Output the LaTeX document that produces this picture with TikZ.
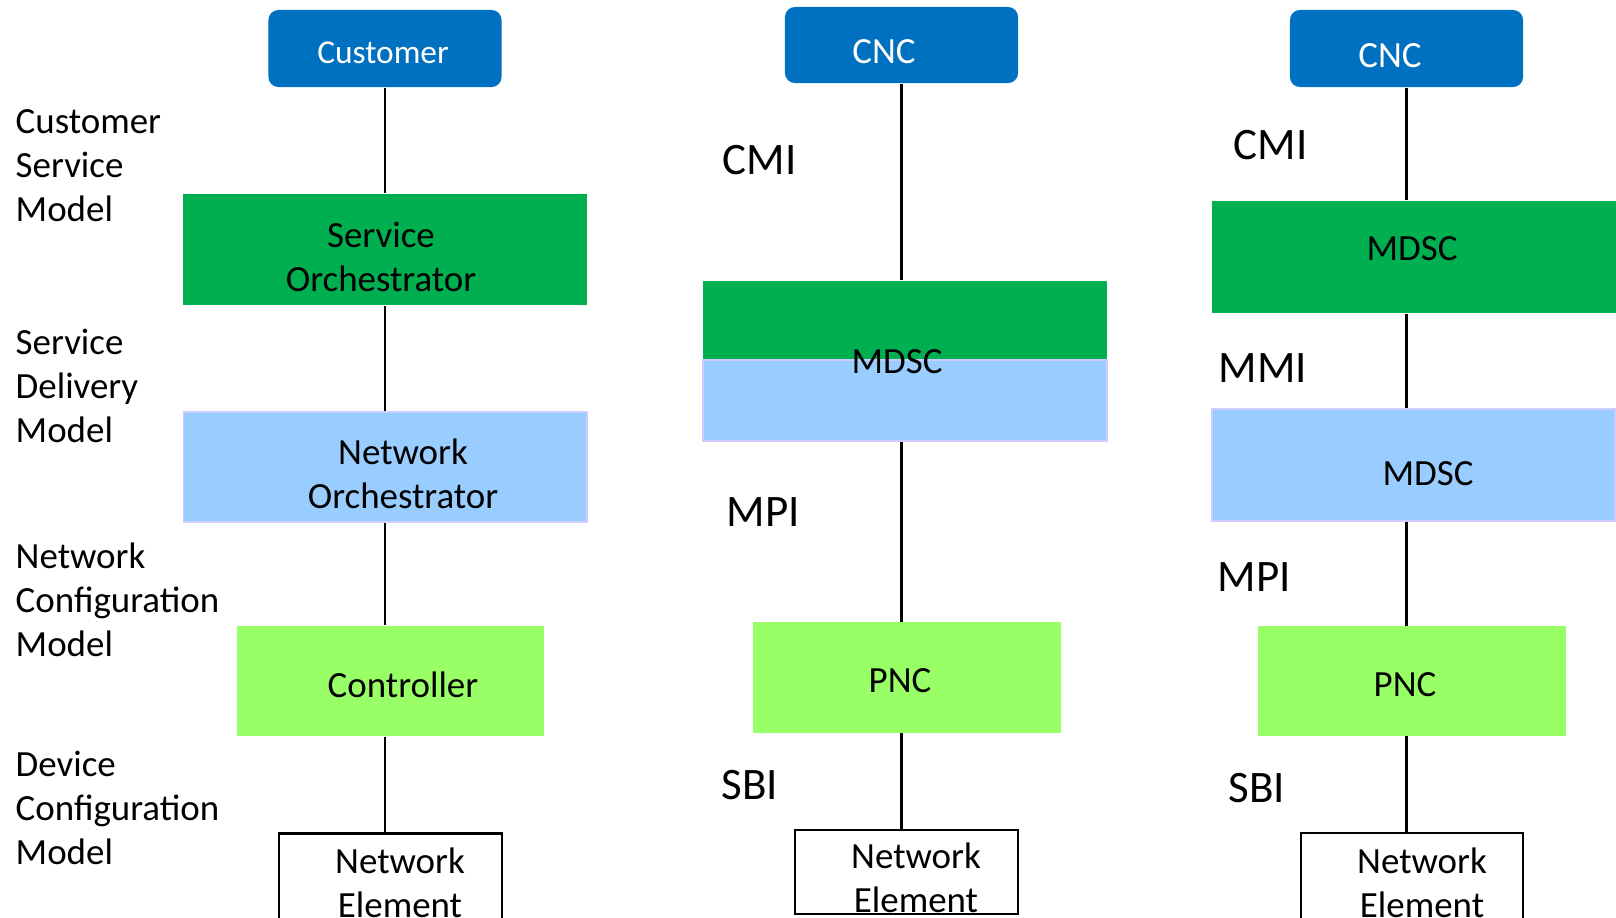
\documentclass[tikz,border=0pt]{standalone}
\usepackage{fontspec}
\setmainfont{Carlito}
\usetikzlibrary{positioning}
\definecolor{topblue}{HTML}{0070C0}
\definecolor{dkgreen}{HTML}{00B050}
\definecolor{ltblue}{HTML}{99CCFF}
\definecolor{ltgreen}{HTML}{99FF66}
\definecolor{lavender}{HTML}{CCCCFF}

\begin{document}
\begin{tikzpicture}[x=0.01cm,y=-0.01cm,font=\fontsize{10.5}{12.5}\selectfont,
 topbox/.style={fill=topblue,rounded corners=0.1cm,minimum width=2.33cm,minimum height=0.77cm,inner sep=0pt},
 dkbox/.style={fill=dkgreen,minimum width=4.04cm,inner sep=0pt},
 ltbbox/.style={fill=ltblue,draw=lavender,line width=0.5pt,minimum width=4.03cm,inner sep=0pt},
 lgbox/.style={fill=ltgreen,minimum width=3.07cm,minimum height=1.1cm,inner sep=0pt},
 nebox/.style={draw,line width=0.6pt,minimum width=2.23cm,minimum height=0.85cm,inner sep=0pt},
 txt/.style={inner sep=0pt,align=center},
 wtxt/.style={txt,text=white},
 lvl/.style={inner sep=0pt,align=left,anchor=west},
 ifc/.style={inner sep=0pt,anchor=west,font=\fontsize{12.8}{15}\selectfont},
 link/.style={line width=0.6pt}]
\useasboundingbox (0,0) rectangle (1616,917);
\clip (0,0) rectangle (1616,917);

% left column
\node[topbox] (cust) at (385,48.5) {};
\node[dkbox,minimum height=1.11cm] (so) at (385,249.5) {};
\node[ltbbox,minimum height=1.1cm] (no) at (385,467) {};
\node[lgbox] (ctl) at (390.5,681) {};
\node[nebox] (ne1) at (390.5,876) {};
\node[wtxt,font=\fontsize{9.5}{11}\selectfont] (cust-t) at (383,53) {Customer};
\node[txt] (so-t) at (381,257) {Service\\Orchestrator};
\node[txt] (no-t) at (403,474) {Network\\Orchestrator};
\node[txt] (ctl-t) at (403,685) {Controller};
\node[txt] (ne1-t) at (400,883) {Network\\Element};
\draw[link] (cust.south) -- (cust.south |- so.north);
\draw[link] (cust.south |- so.south) -- (cust.south |- no.north);
\draw[link] (cust.south |- no.south) -- (cust.south |- ctl.north);
\draw[link] (cust.south |- ctl.south) -- (cust.south |- ne1.north);

\node[lvl] (csm) at (15,166) {Customer\\Service\\Model};
\node[lvl] (sdm) at (15,386) {Service\\Delivery\\Model};
\node[lvl] (ncm) at (15,600) {Network\\Configuration\\Model};
\node[lvl] (dcm) at (15,808) {Device\\Configuration\\Model};

% middle column
\node[topbox,minimum height=0.76cm] (cnc2) at (901.5,45) {};
\node[dkbox,minimum height=0.79cm] (mdsc2a) at (905,320.5) {};
\node[ltbbox,minimum width=4.04cm,minimum height=0.81cm] (mdsc2b) at (905,400.5) {};
\node[lgbox] (pnc2) at (907,677.5) {};
\node[nebox,minimum height=0.84cm] (ne2) at (906.5,872) {};
\node[wtxt] (cnc2-t) at (884,52) {CNC};
\node[txt] (mdsc2-t) at (897,362) {MDSC};
\node[txt] (pnc2-t) at (900,681) {PNC};
\node[txt] (ne2-t) at (916,878) {Network\\Element};
\draw[link] (cnc2.south) -- (cnc2.south |- mdsc2a.north);
\draw[link] (cnc2.south |- mdsc2b.south) -- (cnc2.south |- pnc2.north);
\draw[link] (cnc2.south |- pnc2.south) -- (cnc2.south |- ne2.north);

\node[ifc] (cmi2) at (722,160) {CMI};
\node[ifc] (mpi2) at (726,512) {MPI};
\node[ifc] (sbi2) at (721,785) {SBI};

% right column
\node[topbox] (cnc3) at (1406.5,48.5) {};
\node[dkbox,minimum height=1.12cm] (mdsc3a) at (1414,257) {};
\node[ltbbox,minimum height=1.12cm] (mdsc3b) at (1413.5,465) {};
\node[lgbox,minimum height=1.09cm] (pnc3) at (1412,681) {};
\node[nebox,minimum width=2.22cm,minimum height=0.86cm] (ne3) at (1412,876) {};
\node[wtxt] (cnc3-t) at (1390,56) {CNC};
\node[txt] (mdsc3a-t) at (1412,249) {MDSC};
\node[txt] (mdsc3b-t) at (1428,474) {MDSC};
\node[txt] (pnc3-t) at (1405,685) {PNC};
\node[txt] (ne3-t) at (1422,883) {Network\\Element};
\draw[link] (cnc3.south) -- (cnc3.south |- mdsc3a.north);
\draw[link] (cnc3.south |- mdsc3a.south) -- (cnc3.south |- mdsc3b.north);
\draw[link] (cnc3.south |- mdsc3b.south) -- (cnc3.south |- pnc3.north);
\draw[link] (cnc3.south |- pnc3.south) -- (cnc3.south |- ne3.north);

\node[ifc] (cmi3) at (1233,145) {CMI};
\node[ifc] (mmi3) at (1218,368) {MMI};
\node[ifc] (mpi3) at (1217,577) {MPI};
\node[ifc] (sbi3) at (1228,788) {SBI};
\end{tikzpicture}
\end{document}
